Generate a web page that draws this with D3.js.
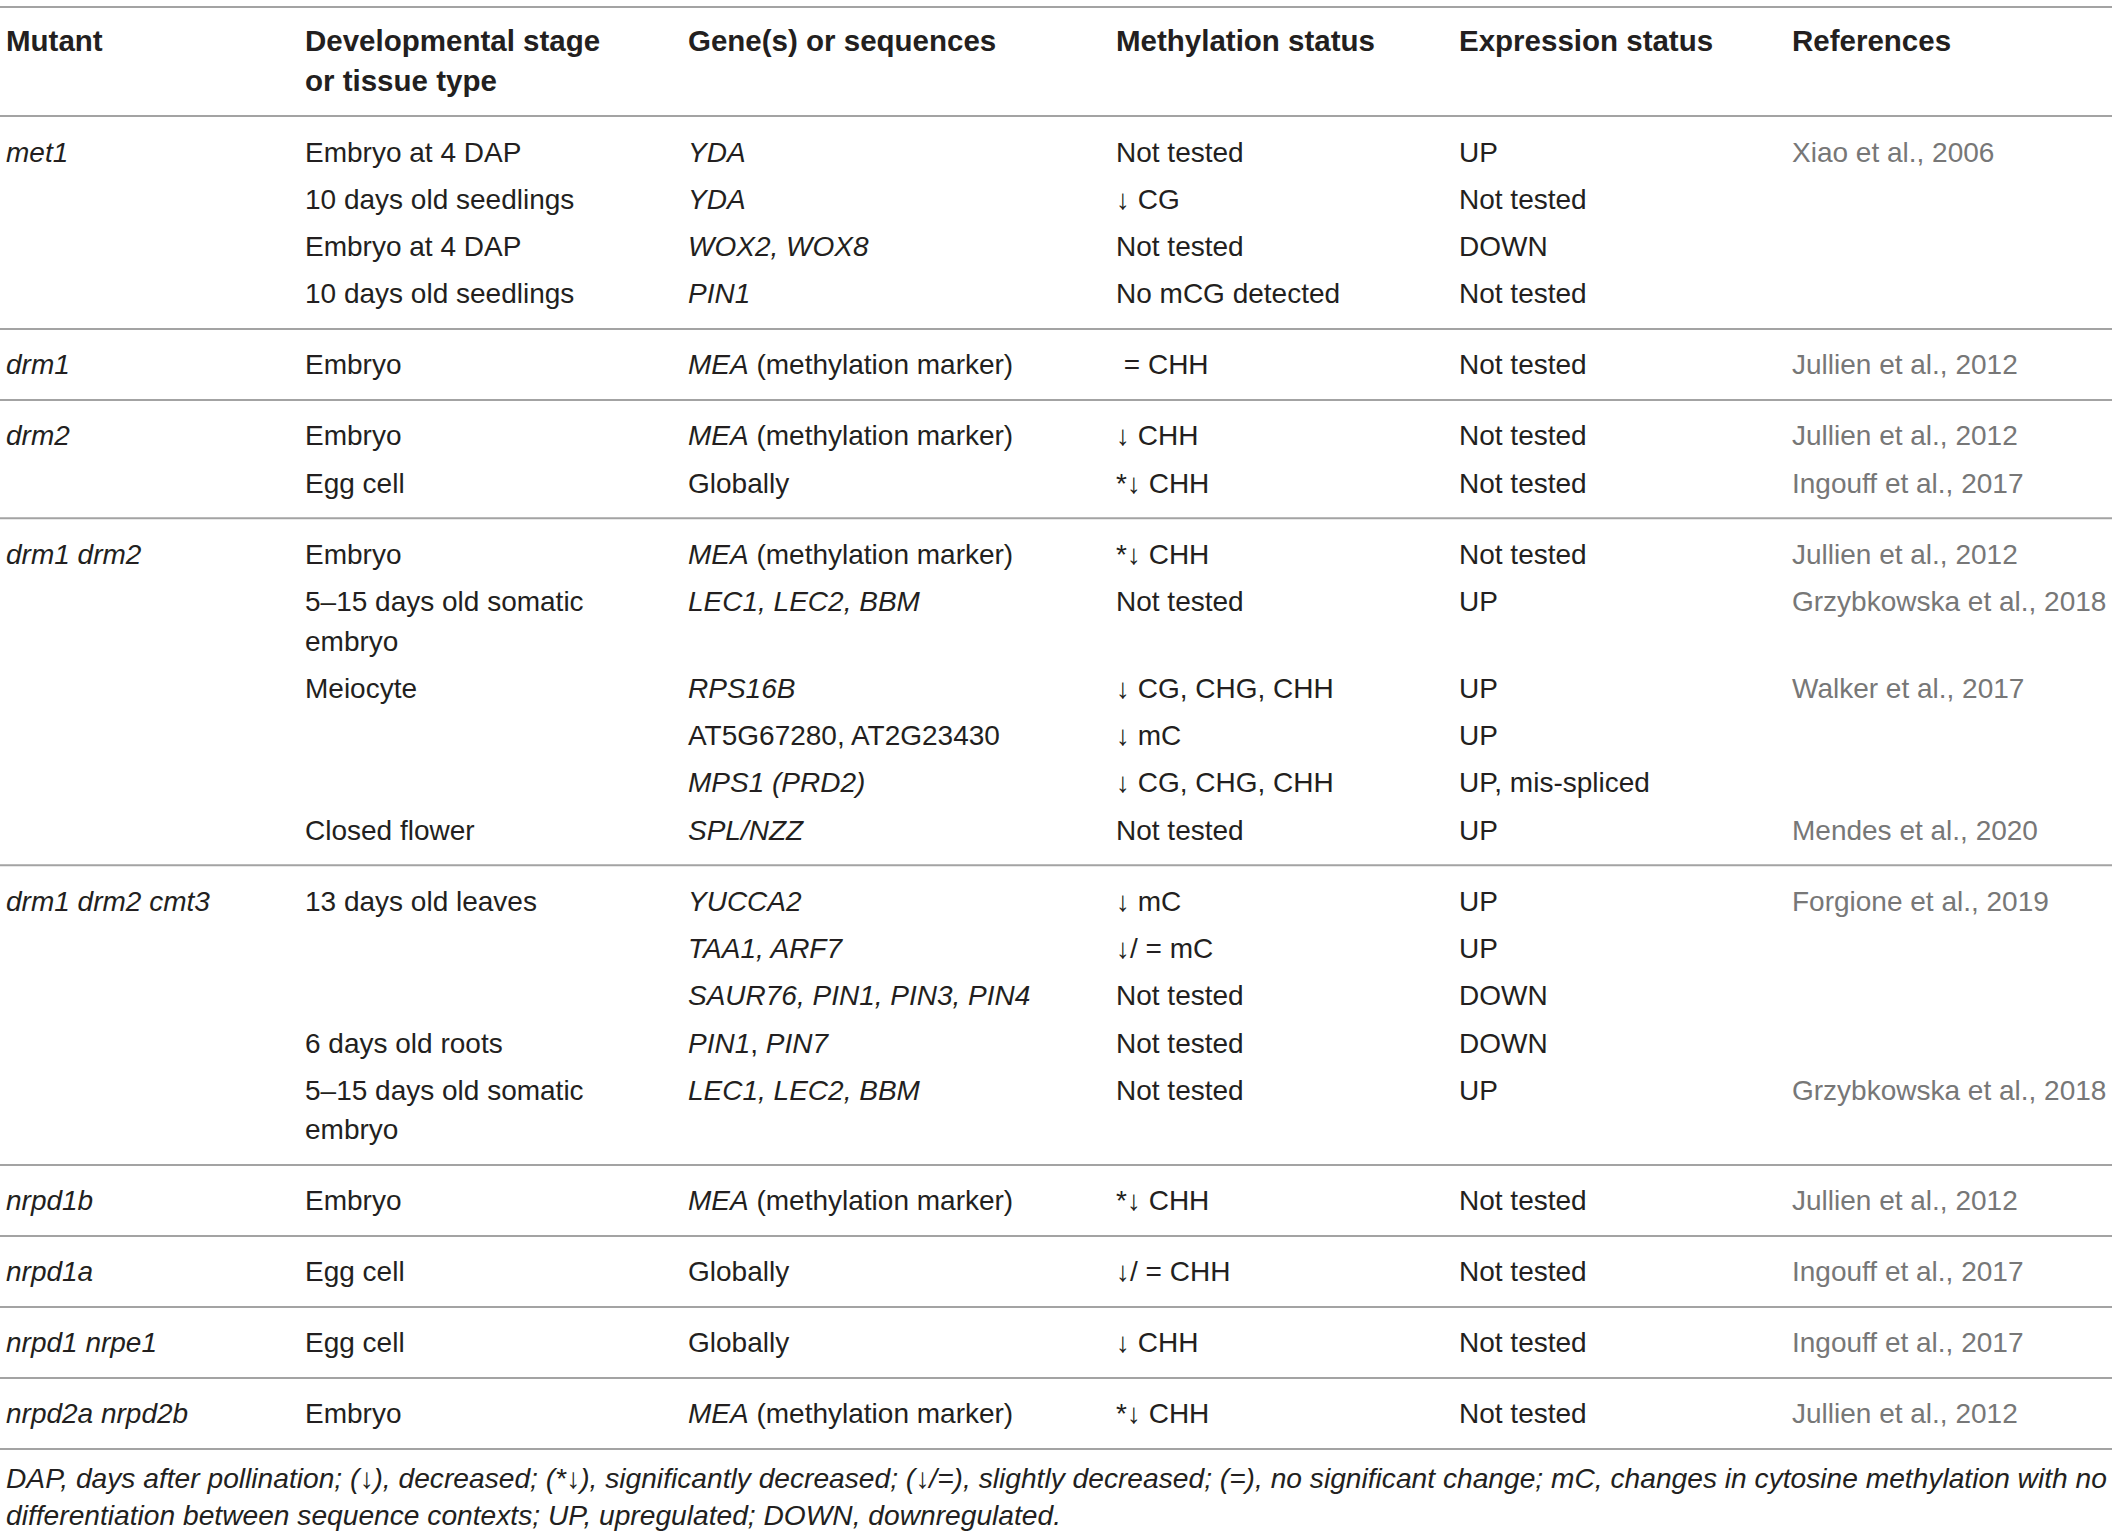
<!DOCTYPE html>
<html lang="en">
<head>
    <meta charset="UTF-8">
    <title>Table</title>
    <script src="https://d3js.org/d3.v7.min.js"></script>
    <style>
        * { margin: 0; padding: 0; box-sizing: border-box; }
        body { background: #fff; font-family: "Liberation Sans", Arial, sans-serif; }
    </style>
</head>
<body>
<div id="chart"></div>
<script>
    // ---- data (italic parts wrapped in _..._, "\n" = line break) ----
    const headers = ["Mutant", "Developmental stage\nor tissue type", "Gene(s) or sequences",
                     "Methylation status", "Expression status", "References"];

    const mutants = ["met1", "drm1", "drm2", "drm1 drm2", "drm1 drm2 cmt3",
                     "nrpd1b", "nrpd1a", "nrpd1 nrpe1", "nrpd2a nrpd2b"];
    const groupSizes = [4, 1, 2, 6, 5, 1, 1, 1, 1];

    const stages = [
        "Embryo at 4 DAP", "10 days old seedlings", "Embryo at 4 DAP", "10 days old seedlings",
        "Embryo",
        "Embryo", "Egg cell",
        "Embryo", "5–15 days old somatic\nembryo", "Meiocyte", "", "", "Closed flower",
        "13 days old leaves", "", "", "6 days old roots", "5–15 days old somatic\nembryo",
        "Embryo", "Egg cell", "Egg cell", "Embryo"
    ];
    const genes = [
        "_YDA_", "_YDA_", "_WOX2, WOX8_", "_PIN1_",
        "_MEA_ (methylation marker)",
        "_MEA_ (methylation marker)", "Globally",
        "_MEA_ (methylation marker)", "_LEC1, LEC2, BBM_", "_RPS16B_", "AT5G67280, AT2G23430",
        "_MPS1 (PRD2)_", "_SPL/NZZ_",
        "_YUCCA2_", "_TAA1, ARF7_", "_SAUR76, PIN1, PIN3, PIN4_", "_PIN1_, _PIN7_", "_LEC1, LEC2, BBM_",
        "_MEA_ (methylation marker)", "Globally", "Globally", "_MEA_ (methylation marker)"
    ];
    const methylation = [
        "Not tested", "↓ CG", "Not tested", "No mCG detected",
        " = CHH",
        "↓ CHH", "*↓ CHH",
        "*↓ CHH", "Not tested", "↓ CG, CHG, CHH", "↓ mC", "↓ CG, CHG, CHH", "Not tested",
        "↓ mC", "↓/ = mC", "Not tested", "Not tested", "Not tested",
        "*↓ CHH", "↓/ = CHH", "↓ CHH", "*↓ CHH"
    ];
    const expression = [
        "UP", "Not tested", "DOWN", "Not tested",
        "Not tested",
        "Not tested", "Not tested",
        "Not tested", "UP", "UP", "UP", "UP, mis-spliced", "UP",
        "UP", "UP", "DOWN", "DOWN", "UP",
        "Not tested", "Not tested", "Not tested", "Not tested"
    ];
    const references = [
        "Xiao et al., 2006", "", "", "",
        "Jullien et al., 2012",
        "Jullien et al., 2012", "Ingouff et al., 2017",
        "Jullien et al., 2012", "Grzybkowska et al., 2018", "Walker et al., 2017", "", "", "Mendes et al., 2020",
        "Forgione et al., 2019", "", "", "", "Grzybkowska et al., 2018",
        "Jullien et al., 2012", "Ingouff et al., 2017", "Ingouff et al., 2017", "Jullien et al., 2012"
    ];
    const footnote = [
        "DAP, days after pollination; (↓), decreased; (*↓), significantly decreased; (↓/=), slightly decreased; (=), no significant change; mC, changes in cytosine methylation with no",
        "differentiation between sequence contexts; UP, upregulated; DOWN, downregulated."
    ];

    // ---- layout ----
    const W = 2118, H = 1537;
    const tableRight = 2112;
    const fontSize = 28, headSize = 29.5;
    const textColor = "#231f20", refColor = "#777777", ruleColor = "#a3a3a3";
    const rowPitch = 47.3, wrapPitch = 39.5, groupPad = 35.5, capHalf = 10;

    const colKeys = ["mutant", "stage", "gene", "meth", "expr", "ref"];
    const x = d3.scaleOrdinal().domain(colKeys).range([6, 305, 688, 1116, 1459, 1792]);

    const svg = d3.select("#chart").append("svg")
        .attr("width", W).attr("height", H)
        .style("font-family", "'Liberation Sans', Arial, sans-serif");

    function lineCount(s) { return s.split("\n").length; }

    // build rows with vertical centres
    const rows = [];
    const rules = [7, 116];
    let yCur = 116, r = 0;
    mutants.forEach((m, gi) => {
        yCur += groupPad;
        for (let k = 0; k < groupSizes[gi]; k++, r++) {
            const row = {
                mutant: k === 0 ? "_" + m + "_" : "",
                stage: stages[r], gene: genes[r], meth: methylation[r],
                expr: expression[r], ref: references[r], cy: yCur
            };
            rows.push(row);
            const lines = d3.max(colKeys, c => lineCount(row[c]));
            yCur += (lines - 1) * wrapPitch;
            if (k < groupSizes[gi] - 1) yCur += rowPitch;
        }
        yCur += groupPad;
        rules.push(yCur);
    });

    // draw text with _italic_ markup
    function richText(sel, str, lineH) {
        str.split("\n").forEach((line, li) => {
            const parts = line.split("_");
            parts.forEach((p, pi) => {
                if (p === "") return;
                const t = sel.append("tspan")
                    .attr("font-style", pi % 2 === 1 ? "italic" : "normal")
                    .text(p);
                if (pi === 0 || (pi === 1 && parts[0] === "")) {
                    t.attr("x", sel.attr("x")).attr("dy", li === 0 ? 0 : lineH);
                }
            });
        });
    }

    // rules
    svg.append("g").selectAll("line")
        .data(rules)
        .join("line")
        .attr("x1", 0).attr("x2", tableRight)
        .attr("y1", d => d).attr("y2", d => d)
        .attr("stroke", ruleColor)
        .attr("stroke-width", 2);

    // header
    svg.append("g").selectAll("text")
        .data(headers)
        .join("text")
        .attr("x", (d, i) => x(colKeys[i]))
        .attr("y", 40.5 + capHalf)
        .attr("font-size", headSize)
        .attr("font-weight", "bold")
        .attr("fill", textColor)
        .each(function(d) { richText(d3.select(this), d, 40.5); });

    // body cells
    const cells = [];
    rows.forEach(row => colKeys.forEach(c => {
        if (row[c] !== "") cells.push({ col: c, text: row[c], cy: row.cy });
    }));

    svg.append("g").selectAll("text")
        .data(cells)
        .join("text")
        .attr("x", d => x(d.col))
        .attr("y", d => d.cy + capHalf)
        .attr("font-size", fontSize)
        .attr("fill", d => d.col === "ref" ? refColor : textColor)
        .style("white-space", "pre")
        .each(function(d) { richText(d3.select(this), d.text, wrapPitch); });

    // footnote
    const foot = svg.append("g").selectAll("text")
        .data(footnote)
        .join("text")
        .attr("x", 6)
        .attr("y", (d, i) => 1488 + i * 37)
        .attr("font-size", 26)
        .attr("font-style", "italic")
        .attr("fill", textColor)
        .text(d => d);

    // fit footnote size to the width of the first line
    const w0 = foot.nodes()[0].getComputedTextLength();
    foot.attr("font-size", 26 * 2102 / w0);
</script>
</body>
</html>
